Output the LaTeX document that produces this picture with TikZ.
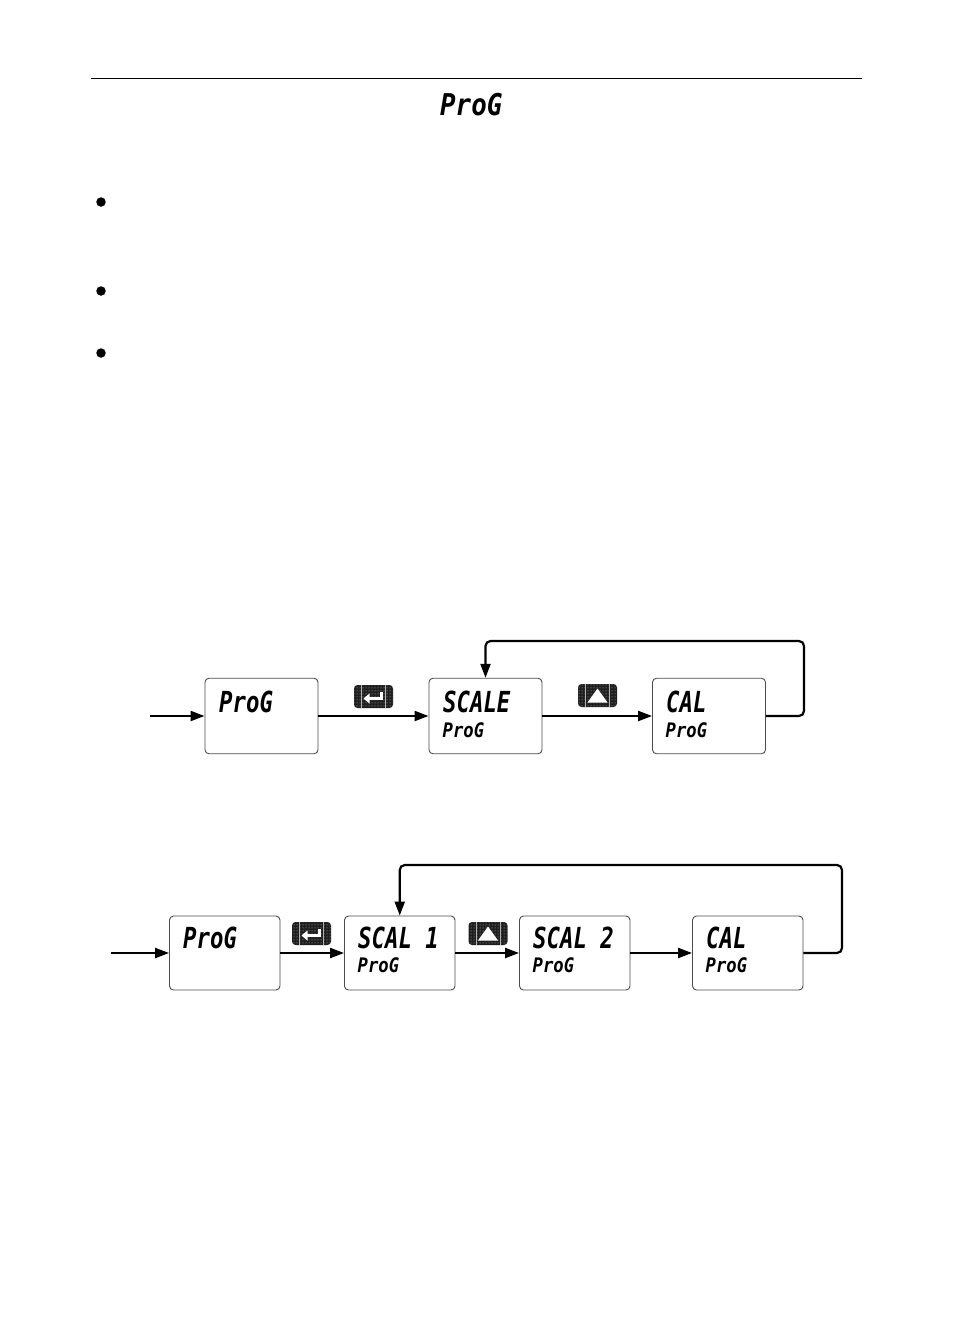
\documentclass[tikz,border=0pt]{standalone}
\usepackage{fontspec}
\usetikzlibrary{arrows.meta,patterns}
\newfontfamily\lcdbig[FakeStretch=0.77]{DejaVu Sans Mono}
\newfontfamily\lcdtitle[FakeStretch=0.86]{DejaVu Sans Mono}
\newfontfamily\lcdsmall[FakeStretch=0.86]{DejaVu Sans Mono}
\tikzset{
  x=1pt,y=-1pt,
  panel/.style={draw=black!70,line width=0.9pt,rounded corners=4pt,fill=white,inner sep=0pt},
  wide/.style={panel,minimum width=113pt,minimum height=75.5pt},
  narrow/.style={panel,minimum width=110.5pt,minimum height=74pt},
  bigtext/.style={anchor=base west,inner sep=0pt,font={\fontsize{29}{29}\lcdbig\bfseries\itshape}},
  smalltext/.style={anchor=base west,inner sep=0pt,font={\fontsize{20}{20}\lcdsmall\bfseries\itshape}},
  titletext/.style={anchor=base west,inner sep=0pt,font={\fontsize{30}{30}\lcdtitle\bfseries\itshape}},
  flow/.style={draw=black,line width=2.2pt,-{Triangle[length=14pt,width=10pt]}},
  loopflow/.style={flow,rounded corners=5pt},
  keycap/.style={preaction={fill=black!88},pattern=dots,pattern color=white!70!black,rounded corners=3.5pt,minimum width=39pt,minimum height=23pt,inner sep=0pt},
  keymark/.style={draw=white!70!black,line width=0.7pt},
  bullet/.style={circle,fill=black,minimum size=9.5pt,inner sep=0pt},
}
\newcommand{\enterkey}[2]{%
  \node[keycap] (#1) at #2 {};
  \draw[keymark] ([xshift=-12pt]#1.north) -- ([xshift=-12pt]#1.south);
  \draw[keymark] ([xshift=12pt]#1.north) -- ([xshift=12pt]#1.south);
  \draw[white,line width=2.4pt] ([shift={(8,-5)}]#1.center) -- ([shift={(8,2)}]#1.center) -- ([shift={(-5,2)}]#1.center);
  \fill[white] ([shift={(-10,2)}]#1.center) -- ([shift={(-4,-3)}]#1.center) -- ([shift={(-4,7)}]#1.center) -- cycle;
}
\newcommand{\upkey}[2]{%
  \node[keycap] (#1) at #2 {};
  \draw[keymark] ([xshift=-12pt]#1.north) -- ([xshift=-12pt]#1.south);
  \draw[keymark] ([xshift=12pt]#1.north) -- ([xshift=12pt]#1.south);
  \fill[white] ([shift={(-10,7)}]#1.center) -- ([shift={(10,7)}]#1.center) -- ([shift={(0,-7)}]#1.center) -- cycle;
}
\begin{document}
\begin{tikzpicture}
\useasboundingbox (0,0) rectangle (954,1336);
\fill[white] (0,0) rectangle (954,1336);
\coordinate (ruleL) at (91,78.5);
\coordinate (ruleR) at (862,78.5);
\draw[black,line width=1pt] (ruleL) -- (ruleR);
\node[titletext] (title) at (440,115) {ProG};
\node[bullet] (b1) at (101,202) {};
\node[bullet] (b2) at (101,291) {};
\node[bullet] (b3) at (101,353) {};
% top row
\node[wide] (a1) at (261.5,716) {};
\node[wide] (a2) at (485.5,716) {};
\node[wide] (a3) at (709,716) {};
\node[bigtext] (a1t) at (219,712) {ProG};
\node[bigtext] (a2t) at (443,712) {SCALE};
\node[bigtext] (a3t) at (666,712) {CAL};
\node[smalltext] (a2s) at (442.5,737) {ProG};
\node[smalltext] (a3s) at (665.5,737) {ProG};
\coordinate (a0) at (150,716);
\coordinate (afb) at (804,641);
\draw[flow] (a0) -- (a1.west);
\draw[flow] (a1.east) -- (a2.west);
\draw[flow] (a2.east) -- (a3.west);
\draw[loopflow] (a3.east) -| (afb) -| (a2.north);
\enterkey{ka}{(373.5,696.5)}
\upkey{kb}{(597.5,695.5)}
% bottom row
\node[narrow] (c1) at (224.75,953) {};
\node[narrow] (c2) at (399.75,953) {};
\node[narrow] (c3) at (574.75,953) {};
\node[narrow] (c4) at (747.75,953) {};
\node[bigtext] (c1t) at (183,948) {ProG};
\node[bigtext] (c2t) at (358,948) {SCAL 1};
\node[bigtext] (c3t) at (533,948) {SCAL 2};
\node[bigtext] (c4t) at (706,948) {CAL};
\node[smalltext] (c2s) at (357.5,972) {ProG};
\node[smalltext] (c3s) at (532.5,972) {ProG};
\node[smalltext] (c4s) at (705.5,972) {ProG};
\coordinate (c0) at (111,953);
\coordinate (cfb) at (842,865);
\draw[flow] (c0) -- (c1.west);
\draw[flow] (c1.east) -- (c2.west);
\draw[flow] (c2.east) -- (c3.west);
\draw[flow] (c3.east) -- (c4.west);
\draw[loopflow] (c4.east) -| (cfb) -| (c2.north);
\enterkey{kc}{(311.5,933.5)}
\upkey{kd}{(488,933.5)}
\end{tikzpicture}
\end{document}
